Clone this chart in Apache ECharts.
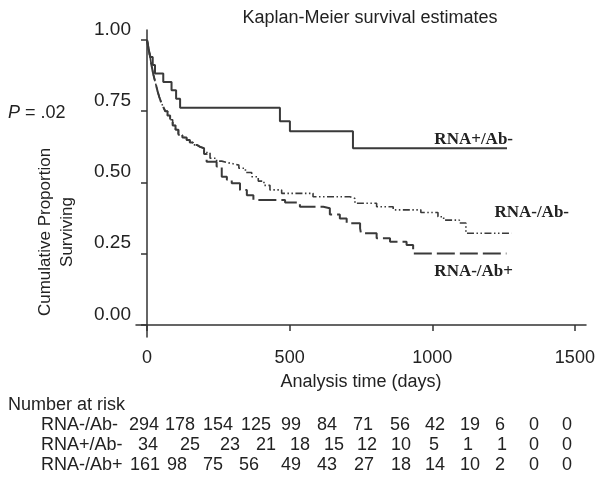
<!DOCTYPE html>
<html>
<head>
<meta charset="utf-8">
<script src="https://cdn.jsdelivr.net/npm/echarts@6/dist/echarts.min.js"></script>
<style>
html, body { margin: 0; padding: 0; background: #fff; }
#km { width: 601px; height: 479px; }
</style>
</head>
<body>
<div id="km"></div>
<script>
// survival curves: time (days) and cumulative proportion surviving
var negNegT = [0, 3, 6, 10, 14, 18, 22, 27, 32, 37, 43, 50, 57, 64, 72, 81, 90, 100, 110, 124, 139, 150, 162, 175, 186, 200, 221, 244, 262, 280, 301, 322, 345, 367, 390, 410, 431, 472, 582, 711, 729, 805, 863, 960, 1020, 1040, 1095, 1118, 1278];
var negNegS = [1, .985, .965, .945, .92, .9, .88, .86, .84, .82, .8, .78, .765, .75, .735, .72, .7, .685, .667, .658, .649, .64, .632, .625, .62, .605, .585, .575, .57, .566, .561, .55, .535, .52, .505, .49, .474, .462, .45, .444, .427, .415, .404, .395, .38, .368, .358, .322, .322];

var posNegT = [0, 5, 12, 20, 28, 57, 86, 102, 116, 466, 501, 722, 1262];
var posNegS = [1, .97, .94, .912, .882, .853, .824, .794, .762, .715, .68, .62, .62];

var negPosT = [0, 3, 6, 10, 14, 18, 22, 27, 32, 37, 43, 50, 57, 64, 72, 81, 90, 100, 110, 124, 139, 150, 162, 175, 186, 200, 209, 244, 262, 280, 297, 326, 350, 373, 484, 536, 618, 641, 676, 700, 747, 750, 805, 852, 910, 933, 1260];
var negPosS = [1, .985, .965, .945, .92, .9, .88, .86, .84, .82, .8, .78, .765, .75, .735, .72, .7, .685, .667, .658, .649, .64, .632, .625, .62, .6, .573, .556, .52, .51, .497, .474, .455, .439, .43, .415, .41, .388, .374, .357, .339, .322, .304, .292, .281, .251, .251];

var timeTicks = [0, 500, 1000, 1500];
var survTicks = [0, 0.25, 0.5, 0.75, 1];

// number at risk
var riskGroups = ['RNA-/Ab-', 'RNA+/Ab-', 'RNA-/Ab+'];
var riskNegNeg = [294, 178, 154, 125, 99, 84, 71, 56, 42, 19, 6, 0, 0];
var riskPosNeg = [34, 25, 23, 21, 18, 15, 12, 10, 5, 1, 1, 0, 0];
var riskNegPos = [161, 98, 75, 56, 49, 43, 27, 18, 14, 10, 2, 0, 0];

// layout of the risk table (pixel columns / rows)
var riskColX = [
    [144, 180, 218, 256, 291, 327, 363, 400, 435, 470, 500, 534, 567],
    [148, 190, 230, 266, 300, 334, 367, 401, 434, 468, 502, 534, 567],
    [145, 177, 213, 249, 291, 327, 364, 401, 435, 470, 500, 534, 567]
];
var riskRowY = [425, 445, 465];

var sans = "'Liberation Sans', Arial, Helvetica, sans-serif";
var serif = "'Liberation Serif', 'Times New Roman', serif";
var ink = '#222';
var lineInk = '#3a3a3a';

function pairs(t, s) {
    return t.map(function (x, i) { return [x, s[i]]; });
}

var chart = echarts.init(document.getElementById('km'));

var graphics = [
    { type: 'text', x: 370, y: 18, style: { text: 'Kaplan-Meier survival estimates', font: '18px ' + sans, fill: ink, textAlign: 'center', textVerticalAlign: 'middle' } },
    { type: 'text', x: 8, y: 113, style: {
        text: '{p|P} = .02', fill: ink, textVerticalAlign: 'middle',
        rich: { p: { fontStyle: 'italic', fontSize: 18, fontFamily: sans, fill: ink } },
        font: '18px ' + sans } },
    { type: 'text', x: 56, y: 232, rotation: Math.PI / 2, style: {
        text: 'Cumulative Proportion\nSurviving', font: '17px ' + sans, fill: ink,
        textAlign: 'center', textVerticalAlign: 'middle', lineHeight: 22 } },
    { type: 'text', x: 513, y: 140, style: { text: 'RNA+/Ab-', font: 'bold 17px ' + serif, fill: ink, textAlign: 'right', textVerticalAlign: 'middle' } },
    { type: 'text', x: 569, y: 213, style: { text: 'RNA-/Ab-', font: 'bold 17px ' + serif, fill: ink, textAlign: 'right', textVerticalAlign: 'middle' } },
    { type: 'text', x: 513, y: 272, style: { text: 'RNA-/Ab+', font: 'bold 17px ' + serif, fill: ink, textAlign: 'right', textVerticalAlign: 'middle' } },
    { type: 'text', x: 8, y: 405, style: { text: 'Number at risk', font: '18px ' + sans, fill: ink, textVerticalAlign: 'middle' } }
];

[riskNegNeg, riskPosNeg, riskNegPos].forEach(function (row, r) {
    graphics.push({ type: 'text', x: 41, y: riskRowY[r], style: { text: riskGroups[r], font: '18px ' + sans, fill: ink, textVerticalAlign: 'middle' } });
    row.forEach(function (n, c) {
        graphics.push({ type: 'text', x: riskColX[r][c], y: riskRowY[r], style: { text: String(n), font: '18px ' + sans, fill: ink, textAlign: 'center', textVerticalAlign: 'middle' } });
    });
});

var option = {
    animation: false,
    backgroundColor: '#fff',
    grid: { left: 136, right: 15, top: 30, bottom: 142 },
    xAxis: {
        type: 'value',
        min: -38.6,
        max: 1539,
        name: 'Analysis time (days)',
        nameLocation: 'middle',
        nameGap: 36,
        nameTextStyle: { fontSize: 18, fontFamily: sans, color: ink },
        axisLine: { show: true, lineStyle: { color: '#333', width: 1.5 } },
        axisTick: { show: true, length: 6, customValues: timeTicks, lineStyle: { color: '#333', width: 1.5 } },
        axisLabel: {
            customValues: timeTicks, margin: 12, fontSize: 18, fontFamily: sans, color: ink,
            formatter: function (v) { return String(v); }
        },
        splitLine: { show: false }
    },
    yAxis: {
        type: 'value',
        min: -0.042,
        max: 1.035,
        axisLine: { show: true, lineStyle: { color: '#333', width: 1.5 } },
        axisTick: { show: true, length: 6, customValues: survTicks, lineStyle: { color: '#333', width: 1.5 } },
        axisLabel: {
            customValues: survTicks, margin: 5, fontSize: 19, fontFamily: sans, color: ink,
            verticalAlign: 'bottom', padding: [0, 0, 1, 0],
            formatter: function (v) { return v.toFixed(2); }
        },
        splitLine: { show: false }
    },
    graphic: graphics,
    series: [
        {
            name: 'RNA-/Ab-', type: 'line', step: 'end', showSymbol: false,
            data: pairs(negNegT, negNegS),
            lineStyle: { color: lineInk, width: 1.6, type: [7, 2.5, 1.5, 2.5, 1.5, 2.5] }
        },
        {
            name: 'RNA-/Ab+', type: 'line', step: 'end', showSymbol: false,
            data: pairs(negPosT, negPosS),
            lineStyle: { color: lineInk, width: 2, type: [18, 5] }
        },
        {
            name: 'RNA+/Ab-', type: 'line', step: 'end', showSymbol: false,
            data: pairs(posNegT, posNegS),
            lineStyle: { color: lineInk, width: 2, type: 'solid' }
        }
    ]
};

chart.setOption(option);
</script>
</body>
</html>
